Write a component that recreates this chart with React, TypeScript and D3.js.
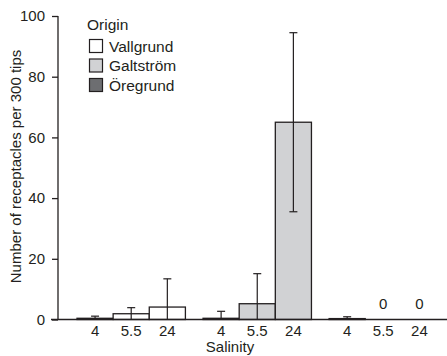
import { useEffect, useRef } from "react";
import * as d3 from "d3";

const origins = ["Vallgrund", "Galtström", "Öregrund"];
const salinities = ["4", "5.5", "24"];
const fills = ["#ffffff", "#d1d2d4", "#6d6e71"];

// mean receptacles per origin (rows) and salinity (columns)
const means = [
    [0.4, 1.9, 4.1],
    [0.4, 5.2, 65],
    [0.3, 0, 0],
];
// error (+/-)
const errors = [
    [0.7, 2.0, 9.3],
    [2.3, 9.9, 29.5],
    [0.6, 0, 0],
];
const yTicks = [0, 20, 40, 60, 80, 100];

export default function App() {
    const ref = useRef<HTMLDivElement>(null);

    useEffect(() => {
        const width = 447;
        const height = 356;
        const font = "'Liberation Sans', Arial, sans-serif";
        const ink = "#231f20";
        const fs = "15px";

        const svg = d3.select(ref.current)
            .append("svg")
            .attr("width", width)
            .attr("height", height)
            .style("position", "absolute")
            .style("left", "0px")
            .style("top", "0px")
            .style("font-family", font);

        const YScale = d3.scaleLinear().domain([0, 100]).range([319.5, 16]);
        const XGroup = d3.scaleBand<string>()
            .domain(origins)
            .range([77, 437.5])
            .paddingInner(0.14)
            .paddingOuter(0);
        const XInner = d3.scaleBand<string>()
            .domain(salinities)
            .range([0, XGroup.bandwidth()]);

        // y axis
        const YAxis = d3.axisLeft(YScale).tickValues(yTicks).tickSize(6).tickPadding(7);
        const gy = svg.append("g")
            .attr("transform", "translate(58,0)")
            .call(YAxis);
        gy.select(".domain").remove();
        gy.selectAll("line").attr("stroke", ink).attr("stroke-width", 1.3);
        gy.selectAll("text")
            .attr("font-size", fs)
            .attr("font-family", font)
            .attr("fill", ink);
        svg.append("line")
            .attr("x1", 58).attr("x2", 58)
            .attr("y1", YScale(100)).attr("y2", YScale(0))
            .attr("stroke", ink).attr("stroke-width", 1.3);

        // bars
        origins.forEach((o, gi) => {
            const g = svg.append("g").attr("transform", `translate(${XGroup(o)},0)`);
            salinities.forEach((s, si) => {
                const v = means[gi][si];
                const e = errors[gi][si];
                const x = XInner(s)!;
                const w = XInner.bandwidth();
                const cx = x + w / 2;
                if (v > 0) {
                    g.append("rect")
                        .attr("x", x)
                        .attr("y", YScale(v))
                        .attr("width", w)
                        .attr("height", YScale(0) - YScale(v))
                        .attr("fill", fills[gi])
                        .attr("stroke", ink)
                        .attr("stroke-width", 1.3);
                } else {
                    g.append("text")
                        .attr("x", cx)
                        .attr("y", YScale(0) - 11)
                        .attr("text-anchor", "middle")
                        .attr("font-size", fs)
                        .attr("fill", ink)
                        .text("0");
                }
                if (e > 0) {
                    const lo = Math.max(0, v - e);
                    const hi = v + e;
                    g.append("line")
                        .attr("x1", cx).attr("x2", cx)
                        .attr("y1", YScale(lo)).attr("y2", YScale(hi))
                        .attr("stroke", ink).attr("stroke-width", 1.2);
                    g.append("line")
                        .attr("x1", cx - 4).attr("x2", cx + 4)
                        .attr("y1", YScale(hi)).attr("y2", YScale(hi))
                        .attr("stroke", ink).attr("stroke-width", 1.2);
                    if (v - e > 0) {
                        g.append("line")
                            .attr("x1", cx - 4).attr("x2", cx + 4)
                            .attr("y1", YScale(lo)).attr("y2", YScale(lo))
                            .attr("stroke", ink).attr("stroke-width", 1.2);
                    }
                }
                // salinity tick label
                g.append("text")
                    .attr("x", cx)
                    .attr("y", 335.5)
                    .attr("text-anchor", "middle")
                    .attr("font-size", fs)
                    .attr("fill", ink)
                    .text(s);
            });
        });

        // x baseline
        svg.append("line")
            .attr("x1", 51).attr("x2", width)
            .attr("y1", YScale(0)).attr("y2", YScale(0))
            .attr("stroke", ink).attr("stroke-width", 1.3);

        svg.append("text")
            .attr("x", 230)
            .attr("y", 352)
            .attr("text-anchor", "middle")
            .attr("font-size", fs)
            .attr("fill", ink)
            .text("Salinity");

        svg.append("text")
            .attr("transform", "rotate(-90)")
            .attr("x", -166.5)
            .attr("y", 21)
            .attr("text-anchor", "middle")
            .attr("font-size", fs)
            .attr("fill", ink)
            .text("Number of receptacles per 300 tips");

        // legend
        const legend = svg.append("g");
        legend.append("text")
            .attr("x", 87).attr("y", 30)
            .attr("font-size", "15.5px")
            .attr("fill", ink)
            .text("Origin");
        origins.forEach((o, i) => {
            const y = 39.5 + i * 19.5;
            legend.append("rect")
                .attr("x", 89.5).attr("y", y)
                .attr("width", 13).attr("height", 13)
                .attr("fill", fills[i])
                .attr("stroke", ink)
                .attr("stroke-width", 1.2);
            legend.append("text")
                .attr("x", 109).attr("y", y + 12)
                .attr("font-size", "15.5px")
                .attr("fill", ink)
                .text(o);
        });

        return () => {
            d3.select(ref.current).selectAll("*").remove();
        };
    });

    return <div ref={ref} />;
}
